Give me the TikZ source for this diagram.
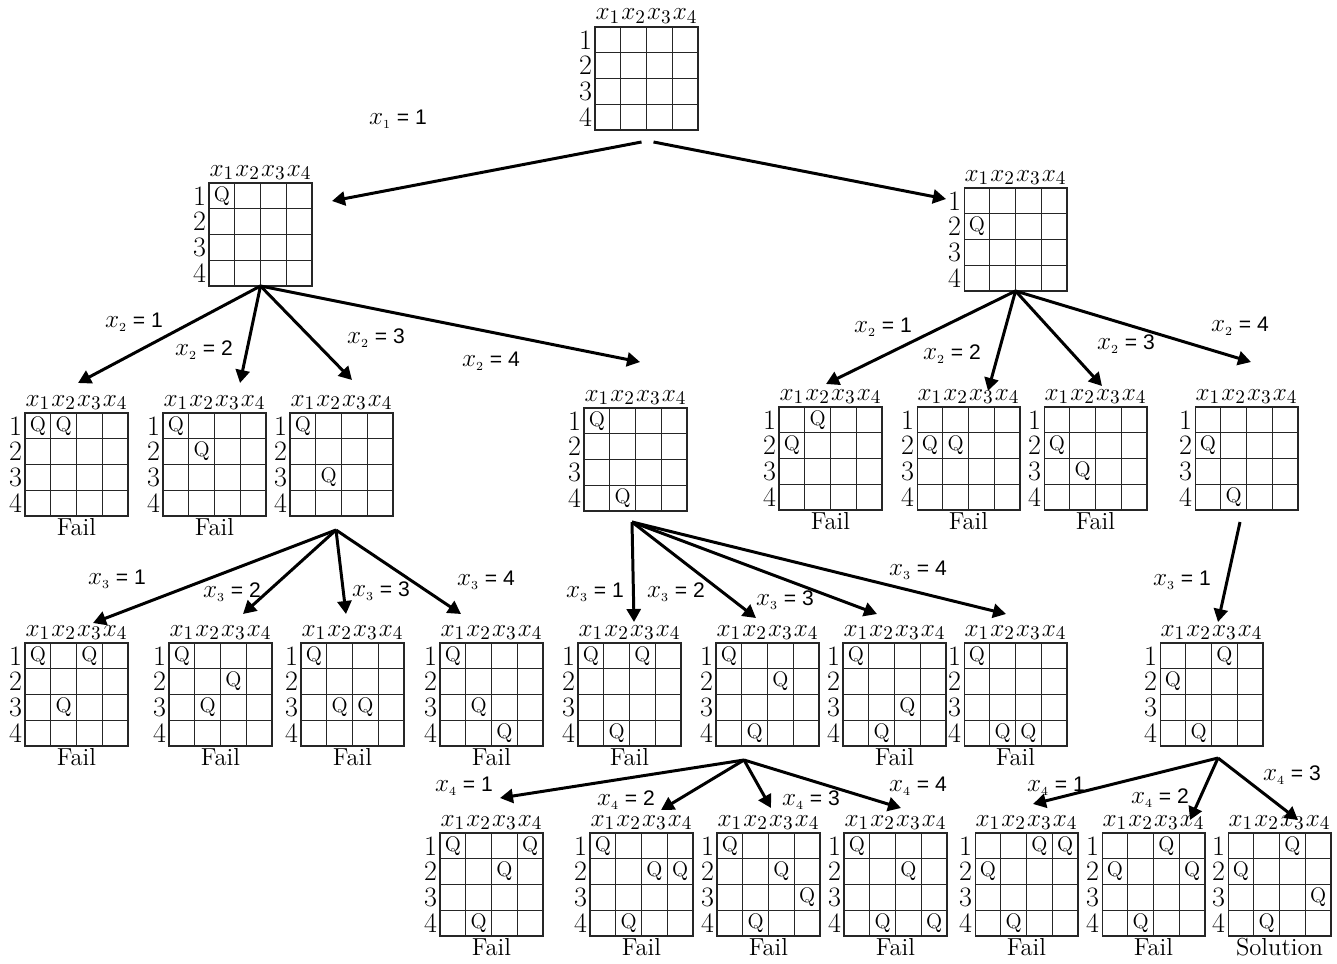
\documentclass[tikz,border=0pt]{standalone}
\usepackage{fontspec}
\newfontfamily\lblfont{Liberation Sans}
\usepackage{tikz}
\usetikzlibrary{arrows.meta,positioning}

% branch text: variable index, value
\newcommand{\brl}[2]{{\fontsize{15}{15}\selectfont$x_{\scriptscriptstyle #1}$} = #2}

% board: name, left, top, queens as column/row
\newcommand{\qboard}[4]{%
  \node[cellbox] (#1) at (#2+51.5,#3+51.5) {};
  \begin{scope}[shift={(#2,#3)}]
    \foreach \i in {1,...,3} {
      \draw[gridln] (\i*25.75,0) -- (\i*25.75,103);
      \draw[gridln] (0,\i*25.75) -- (103,\i*25.75);
    }
    \foreach \i in {1,...,4} {
      \node[hdr] (#1h\i) at (\i*25.75-12.9,-7) {$x_{\i}$};
      \node[rowlbl] (#1r\i) at (0,\i*25.75-12.9) {\i};
    }
    \if\relax\detokenize{#4}\relax\else
    \foreach \c/\r in {#4}
      \node[queen] (#1q\c) at (\c*25.75-12.9,\r*25.75-12.9) {Q};
    \fi
  \end{scope}
}

\begin{document}
\begin{tikzpicture}[x=0.02cm, y=-0.02cm,
  cellbox/.style={draw=black!85, line width=0.6pt, minimum width=2.06cm, minimum height=2.06cm, inner sep=0pt, outer sep=0pt},
  gridln/.style={draw=black!85, line width=0.6pt},
  hdr/.style={font=\fontsize{15}{15}\selectfont, anchor=base, inner sep=0pt},
  rowlbl/.style={font=\fontsize{16}{16}\selectfont, anchor=east, inner sep=1.5pt},
  queen/.style={font=\fontsize{12}{12}\selectfont, inner sep=0pt},
  tag/.style={font=\fontsize{14}{14}\selectfont, inner sep=1pt},
  lbl/.style={font=\lblfont\fontsize{12}{12}\selectfont, inner sep=1pt},
  arr/.style={-{Triangle[length=2.6mm,width=2.8mm]}, line width=1.7pt}
]
\useasboundingbox (0,0) rectangle (1337,963);

% boards
\qboard{root}{595}{27}{}
\qboard{A}{209}{183}{1/1}
\qboard{B}{964}{188}{1/2}
\qboard{A1}{25}{413}{1/1,2/1}
\qboard{A2}{163}{413}{1/1,2/2}
\qboard{A3}{290}{413}{1/1,2/3}
\qboard{A4}{584}{408}{1/1,2/4}
\qboard{B1}{779}{407}{1/2,2/1}
\qboard{B2}{917}{407}{1/2,2/2}
\qboard{B3}{1044}{407}{1/2,2/3}
\qboard{B4}{1195}{407}{1/2,2/4}
\qboard{A31}{25}{643}{1/1,2/3,3/1}
\qboard{A32}{169}{643}{1/1,2/3,3/2}
\qboard{A33}{301}{643}{1/1,2/3,3/3}
\qboard{A34}{440}{643}{1/1,2/3,3/4}
\qboard{A41}{578}{643}{1/1,2/4,3/1}
\qboard{A42}{716}{643}{1/1,2/4,3/2}
\qboard{A43}{843}{643}{1/1,2/4,3/3}
\qboard{A44}{964}{643}{1/1,2/4,3/4}
\qboard{B41}{1160}{643}{1/2,2/4,3/1}
\qboard{A421}{440}{833}{1/1,2/4,3/2,4/1}
\qboard{A422}{590}{833}{1/1,2/4,3/2,4/2}
\qboard{A423}{717}{833}{1/1,2/4,3/2,4/3}
\qboard{A424}{844}{833}{1/1,2/4,3/2,4/4}
\qboard{B411}{975}{833}{1/2,2/4,3/1,4/1}
\qboard{B412}{1102}{833}{1/2,2/4,3/1,4/2}
\qboard{B413}{1228}{833}{1/2,2/4,3/1,4/3}

\foreach \t in {A1,A2,B1,B2,B3,A31,A32,A33,A34,A41,A43,A44,A421,A422,A423,A424,B411,B412}
  \node[tag, below=0pt of \t] (\t f) {Fail};
\node[tag, below=0pt of B413] (B413f) {Solution};

% arrow ends
\coordinate (rootL) at ([shift={(-5,12)}]root.south);
\coordinate (rootR) at ([shift={(7,12)}]root.south);
\coordinate (A3o) at ([shift={(-5.5,14)}]A3.south);
\coordinate (A4o) at ([shift={(-3.5,11)}]A4.south);
\coordinate (B4o) at ([shift={(-6.5,12)}]B4.south);
\coordinate (A42o) at ([shift={(-23.5,14)}]A42.south);
\coordinate (B41o) at ([shift={(6.5,12)}]B41.south);
\foreach \t/\x/\y in {A/332/201, B/946/199,
    A1/78/383, A2/240/383, A3/352/380, A4/640/362,
    B1/826/384, B2/988/391, B3/1102/386, B4/1251/362,
    A31/93/623, A32/243/614, A33/346/614, A34/461/614,
    A41/634/622, A42/756/618, A43/877/614, A44/1006/614, B41/1218/622,
    A421/500/798, A422/661/810, A423/771/808, A424/901/808,
    B411/1033/804, B412/1190/820, B413/1298/820}
  \coordinate (in-\t) at (\x,\y);

\draw[arr] (rootL) -- (in-A);
\draw[arr] (rootR) -- (in-B);
\foreach \t in {A1,A2,A3,A4} \draw[arr] (A.south) -- (in-\t);
\foreach \t in {B1,B2,B3,B4} \draw[arr] (B.south) -- (in-\t);
\foreach \t in {A31,A32,A33,A34} \draw[arr] (A3o) -- (in-\t);
\foreach \t in {A41,A42,A43,A44} \draw[arr] (A4o) -- (in-\t);
\draw[arr] (B4o) -- (in-B41);
\foreach \t in {A421,A422,A423,A424} \draw[arr] (A42o) -- (in-\t);
\foreach \t in {B411,B412,B413} \draw[arr] (B41o) -- (in-\t);

% branch labels
\node[lbl] (l1) at (398,119) {\brl{1}{1}};
\node[lbl] (lA1) at (134,322) {\brl{2}{1}};
\node[lbl] (lA2) at (204,350) {\brl{2}{2}};
\node[lbl] (lA3) at (376,338) {\brl{2}{3}};
\node[lbl] (lA4) at (491,361) {\brl{2}{4}};
\node[lbl] (lB1) at (883,327) {\brl{2}{1}};
\node[lbl] (lB2) at (952,354) {\brl{2}{2}};
\node[lbl] (lB3) at (1126,344) {\brl{2}{3}};
\node[lbl] (lB4) at (1240,326) {\brl{2}{4}};
\node[lbl] (lA31) at (117,579) {\brl{3}{1}};
\node[lbl] (lA32) at (232,592) {\brl{3}{2}};
\node[lbl] (lA33) at (381,591) {\brl{3}{3}};
\node[lbl] (lA34) at (486,580) {\brl{3}{4}};
\node[lbl] (lA41) at (595,592) {\brl{3}{1}};
\node[lbl] (lA42) at (676,592) {\brl{3}{2}};
\node[lbl] (lA43) at (785,600) {\brl{3}{3}};
\node[lbl] (lA44) at (918,570) {\brl{3}{4}};
\node[lbl] (lB41) at (1182,580) {\brl{3}{1}};
\node[lbl] (lA421) at (464,786) {\brl{4}{1}};
\node[lbl] (lA422) at (626,800) {\brl{4}{2}};
\node[lbl] (lA423) at (811,800) {\brl{4}{3}};
\node[lbl] (lA424) at (918,786) {\brl{4}{4}};
\node[lbl] (lB411) at (1056,786) {\brl{4}{1}};
\node[lbl] (lB412) at (1160,798) {\brl{4}{2}};
\node[lbl] (lB413) at (1292,775) {\brl{4}{3}};
\end{tikzpicture}
\end{document}
